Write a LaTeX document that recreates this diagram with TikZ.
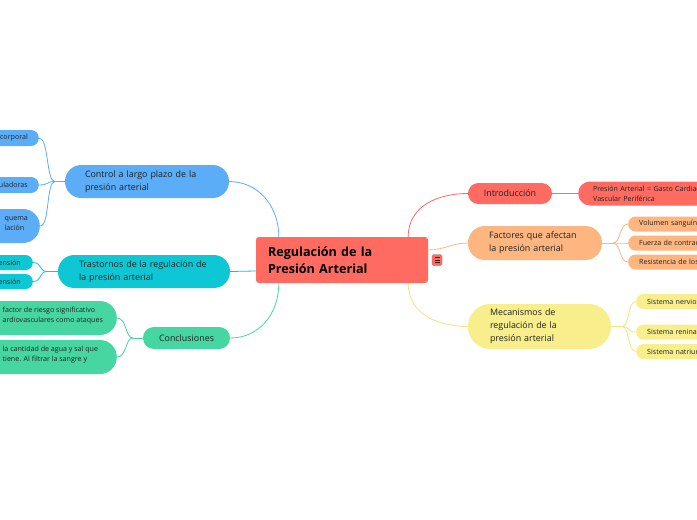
\documentclass[tikz,border=0pt]{standalone}
\usepackage{fontspec}
\setmainfont{Open Sans}
\usetikzlibrary{calc}
\definecolor{cred}{HTML}{FF6B61}
\definecolor{cblue}{HTML}{5AADF6}
\definecolor{ccyan}{HTML}{0DC8D4}
\definecolor{cgreen}{HTML}{46D6A1}
\definecolor{corange}{HTML}{FDB67F}
\definecolor{cyellow}{HTML}{F9EE8C}
\definecolor{ctext}{HTML}{222222}
\tikzset{
  mainbox/.style={fill=cred, rounded corners=3, minimum width=172, minimum height=46,
    text width=148, align=left, inner xsep=12, text=black,
    font=\fontsize{12.6}{17.5}\selectfont\bfseries},
  lone/.style={minimum height=#1, rounded corners=#1/2-0.2, text=ctext,
    font=\fontsize{8.9}{13}\selectfont},
  leaf/.style={minimum height=#1, rounded corners=#1/2-0.2, text=ctext,
    font=\fontsize{7.1}{10}\selectfont},
  rleaf/.style={leaf=#1, anchor=west, align=left, minimum width=130, text width=108, inner xsep=11},
  lleaf/.style={leaf=#1, anchor=east, align=right, text width=50},
  bigleaf/.style={leaf=34, anchor=east, minimum width=150},
  ltext/.style={anchor=west, align=left, inner sep=0, text=ctext, font=\fontsize{7.1}{10}\selectfont},
  conn/.style={line width=0.8},
}
\begin{document}
\begin{tikzpicture}[x=1pt,y=-1pt]
\useasboundingbox (0,0) rectangle (697,520);
\clip (0,0) rectangle (697,520);
\fill[white] (0,0) rectangle (697,520);

% central
\node[mainbox] (root) at (342,260) {Regulación de la\\Presión Arterial};
\node[fill=cred, draw=cred!80!black, line width=0.3, rounded corners=1.5, minimum width=10, minimum height=11, inner sep=0,
  path picture={\draw[black!85, line width=0.8]
    ($(path picture bounding box.center)+(-2.5,-2.5)$) -- ++(5,0)
    ($(path picture bounding box.center)+(-2.5,0)$) -- ++(5,0)
    ($(path picture bounding box.center)+(-2.5,2.5)$) -- ++(5,0);}] (menu) at (437,260) {};

% level 1 left
\node[lone=33, fill=cblue, minimum width=164, text width=124, inner xsep=20, align=left] (ctrl) at (147,181.5)
  {Control a largo plazo de la\\presión arterial};
\node[lone=33, fill=ccyan, minimum width=172, text width=130, inner xsep=21, align=left] (tras) at (144,271.5)
  {Trastornos de la regulación de\\la presión arterial};
\node[lone=22, fill=cgreen, minimum width=87, align=center] (concl) at (186.5,338) {Conclusiones};

% level 1 right
\node[lone=21, fill=cred, minimum width=84, align=center] (intro) at (510,193.5) {Introducción};
\node[lone=34, fill=corange, minimum width=134, text width=92, inner xsep=21, align=left] (fact) at (535,243)
  {Factores que afectan\\la presión arterial};
\node[lone=45, fill=cyellow, minimum width=143, text width=99, inner xsep=22, align=left] (mec) at (539.5,326.5)
  {Mecanismos de\\regulación de la\\presión arterial};

% left leaves
\node[lleaf=16, fill=cblue, inner xsep=11] (b1) at (39,138) {corporal};
\node[lleaf=16, fill=cblue, inner xsep=11] (b2) at (39,185) {uladoras};
\node[bigleaf, fill=cblue] (b3) at (40,226) {};
\node[ltext] (b3t) at (4.5,224) {quema\\lación};
\node[lleaf=15, fill=ccyan, inner xsep=12] (c1) at (33,262.5) {ensión};
\node[lleaf=15, fill=ccyan, inner xsep=12] (c2) at (33,281.5) {ensión};
\node[bigleaf, fill=cgreen] (g1) at (117,318) {};
\node[ltext] (g1t) at (2.5,316) {factor de riesgo significativo\\ardiovasculares como ataques};
\node[bigleaf, fill=cgreen] (g2) at (117,357) {};
\node[ltext] (g2t) at (2.5,355) {la cantidad de agua y sal que\\tiene. Al filtrar la sangre y};

% right leaves
\node[leaf=24, fill=cred, anchor=west, align=left, minimum width=150, text width=120, inner xsep=15] (r1) at (578,193.5)
  {Presión Arterial = Gasto Cardiaco\\Vascular Periférica};
\node[rleaf=15, fill=corange] (o1) at (628,224) {Volumen sanguíneo};
\node[rleaf=15, fill=corange] (o2) at (628,243) {Fuerza de contracción};
\node[rleaf=15, fill=corange] (o3) at (628,262) {Resistencia de los};
\node[rleaf=15, fill=cyellow] (y1) at (636,301.5) {Sistema nervioso};
\node[rleaf=15, fill=cyellow] (y2) at (636,332) {Sistema renina};
\node[rleaf=15, fill=cyellow] (y3) at (636,351.5) {Sistema natriurético};

% root connectors
\draw[conn, cblue] (ctrl.east) .. controls +(28,0) and +(0,-32) .. ($(root.north west)+(23,0)$);
\draw[conn, ccyan] (tras.east) .. controls +(12,0) and +(-12,0) .. ($(root.west)+(0,11)$);
\draw[conn, cgreen] (concl.east) .. controls +(28,0) and +(0,32) .. ($(root.south west)+(23,0)$);
\draw[conn, cred] ($(root.north east)+(-20,0)$) .. controls +(0,-32) and +(-28,0) .. (intro.west);
\draw[conn, corange] ($(root.east)+(0,-10)$) .. controls +(15,0) and +(-15,0) .. (fact.west);
\draw[conn, cyellow!90!orange] ($(root.south east)+(-20,0)$) .. controls +(0,32) and +(-28,0) .. (mec.west);

% junctions
\coordinate (jb) at (55,181.5);
\coordinate (jc) at (47,271.5);
\coordinate (jg) at (133,338);
\coordinate (jo) at (613,243);
\coordinate (jy) at (622,326.5);

\draw[conn, cblue] (ctrl.west) -- (jb);
\foreach \n in {b1,b2,b3} \draw[conn, cblue] (\n.east) .. controls +(10,0) and +(-9,0) .. (jb);
\draw[conn, ccyan] (tras.west) -- (jc);
\foreach \n in {c1,c2} \draw[conn, ccyan] (\n.east) .. controls +(9,0) and +(-8,0) .. (jc);
\draw[conn, cgreen] (concl.west) -- (jg);
\foreach \n in {g1,g2} \draw[conn, cgreen] (\n.east) .. controls +(10,0) and +(-8,0) .. (jg);

\draw[conn, cred] (intro.east) -- (r1.west);
\draw[conn, corange] (fact.east) -- (jo);
\foreach \n in {o1,o2,o3} \draw[conn, corange] (jo) .. controls +(8,0) and +(-9,0) .. (\n.west);
\draw[conn, cyellow!90!orange] (mec.east) -- (jy);
\foreach \n in {y1,y2,y3} \draw[conn, cyellow!90!orange] (jy) .. controls +(8,0) and +(-9,0) .. (\n.west);
\end{tikzpicture}
\end{document}
